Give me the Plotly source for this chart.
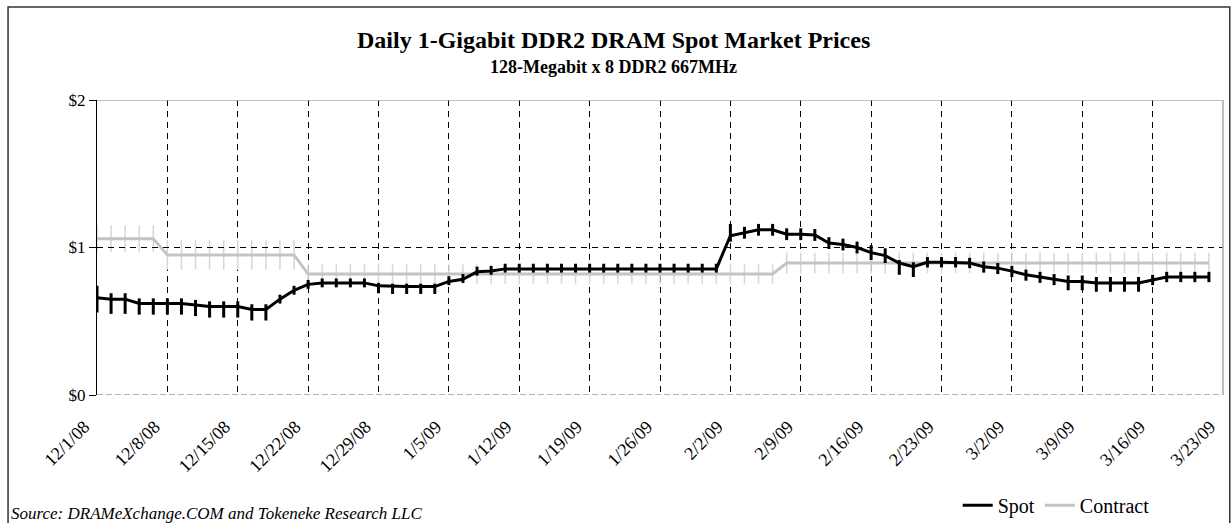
import pandas as pd
import plotly.graph_objects as go

# business days 12/1/08 .. 3/23/09 (category axis, 5 per week)
days = [d.strftime("%Y-%m-%d") for d in pd.bdate_range("2008-12-01", "2009-03-23")]

tick_days = [days[i] for i in range(0, len(days), 5)]
tick_labels = ["12/1/08", "12/8/08", "12/15/08", "12/22/08", "12/29/08", "1/5/09",
               "1/12/09", "1/19/09", "1/26/09", "2/2/09", "2/9/09", "2/16/09",
               "2/23/09", "3/2/09", "3/9/09", "3/16/09", "3/23/09"]

spot = [0.66, 0.65, 0.65, 0.62, 0.62, 0.62, 0.62, 0.61, 0.60, 0.60,
        0.60, 0.58, 0.58, 0.65, 0.71, 0.75, 0.76, 0.76, 0.76, 0.76,
        0.74, 0.735, 0.735, 0.735, 0.735, 0.77, 0.785, 0.835, 0.84, 0.855,
        0.855, 0.855, 0.855, 0.855, 0.855, 0.855, 0.855, 0.855, 0.855, 0.855,
        0.855, 0.855, 0.855, 0.855, 0.855, 1.08, 1.10, 1.12, 1.12, 1.09,
        1.09, 1.085, 1.03, 1.02, 1.00, 0.965, 0.945, 0.895, 0.87, 0.90,
        0.90, 0.90, 0.895, 0.87, 0.86, 0.84, 0.815, 0.80, 0.785, 0.77,
        0.77, 0.76, 0.76, 0.76, 0.76, 0.78, 0.80, 0.80, 0.80, 0.80, None]

spot_hi = [0.08, 0.04, 0.04, 0.035, 0.035, 0.035, 0.035, 0.035, 0.035, 0.035,
           0.035, 0.035, 0.035, 0.03, 0.03, 0.03, 0.03, 0.03, 0.03, 0.03,
           0.02, 0.02, 0.02, 0.02, 0.02, 0.035, 0.035, 0.035, 0.035, 0.035,
           0.035, 0.035, 0.035, 0.035, 0.035, 0.035, 0.035, 0.035, 0.035, 0.035,
           0.035, 0.035, 0.035, 0.035, 0.035, 0.08, 0.04, 0.04, 0.04, 0.04,
           0.04, 0.04, 0.04, 0.04, 0.04, 0.05, 0.05, 0.02, 0.03, 0.035,
           0.035, 0.035, 0.035, 0.035, 0.035, 0.035, 0.035, 0.035, 0.035, 0.04,
           0.04, 0.04, 0.04, 0.04, 0.04, 0.035, 0.035, 0.035, 0.035, 0.035, 0]

spot_lo = [0.10, 0.10, 0.10, 0.075, 0.075, 0.075, 0.075, 0.075, 0.075, 0.075,
           0.075, 0.075, 0.075, 0.03, 0.03, 0.03, 0.03, 0.03, 0.03, 0.03,
           0.05, 0.05, 0.05, 0.05, 0.05, 0.025, 0.025, 0.025, 0.025, 0.025,
           0.025, 0.025, 0.025, 0.025, 0.025, 0.025, 0.025, 0.025, 0.025, 0.025,
           0.025, 0.025, 0.025, 0.025, 0.025, 0.04, 0.04, 0.04, 0.04, 0.04,
           0.04, 0.04, 0.04, 0.04, 0.04, 0.05, 0.05, 0.08, 0.07, 0.035,
           0.035, 0.035, 0.035, 0.04, 0.04, 0.04, 0.04, 0.04, 0.04, 0.06,
           0.06, 0.06, 0.06, 0.06, 0.06, 0.035, 0.035, 0.035, 0.035, 0.035, 0]

contract = [1.06, 1.06, 1.06, 1.06, 1.06, 0.95, 0.95, 0.95, 0.95, 0.95,
            0.95, 0.95, 0.95, 0.95, 0.95, 0.82, 0.82, 0.82, 0.82, 0.82,
            0.82, 0.82, 0.82, 0.82, 0.82, 0.82, 0.82, 0.82, 0.82, 0.82,
            0.82, 0.82, 0.82, 0.82, 0.82, 0.82, 0.82, 0.82, 0.82, 0.82,
            0.82, 0.82, 0.82, 0.82, 0.82, 0.82, 0.82, 0.82, 0.82, 0.895,
            0.895, 0.895, 0.895, 0.895, 0.895, 0.895, 0.895, 0.895, 0.895, 0.895,
            0.895, 0.895, 0.895, 0.895, 0.895, 0.895, 0.895, 0.895, 0.895, 0.895,
            0.895, 0.895, 0.895, 0.895, 0.895, 0.895, 0.895, 0.895, 0.895, 0.895, None]

contract_err = [0.09, 0.09, 0.09, 0.09, 0.09, 0.10, 0.10, 0.10, 0.10, 0.10,
                0.10, 0.10, 0.10, 0.10, 0.10, 0.065, 0.065, 0.065, 0.065, 0.065,
                0.065, 0.065, 0.065, 0.065, 0.065, 0.065, 0.065, 0.065, 0.065, 0.065,
                0.065, 0.065, 0.065, 0.065, 0.065, 0.065, 0.065, 0.065, 0.065, 0.065,
                0.065, 0.065, 0.065, 0.065, 0.065, 0.065, 0.065, 0.065, 0.065, 0.07,
                0.07, 0.07, 0.07, 0.07, 0.07, 0.07, 0.07, 0.07, 0.07, 0.07,
                0.07, 0.07, 0.07, 0.07, 0.07, 0.07, 0.07, 0.07, 0.07, 0.07,
                0.07, 0.07, 0.07, 0.07, 0.07, 0.07, 0.07, 0.07, 0.07, 0.07, 0]

SERIF = "Liberation Serif"
GRAY = "#c4c4c4"
PAD = "\u00a0" * 4   # nudges rotated labels down-left like the original

fig = go.Figure()
fig.add_trace(go.Scatter(
    x=days, y=contract, name="Contract", mode="lines",
    line=dict(color=GRAY, width=3),
    error_y=dict(type="data", array=contract_err, color="#d6d6d6",
                 thickness=1.5, width=0),
))
fig.add_trace(go.Scatter(
    x=days, y=spot, name="Spot", mode="lines",
    line=dict(color="black", width=3),
    error_y=dict(type="data", array=spot_hi, arrayminus=spot_lo,
                 color="black", thickness=3, width=0),
))

fig.update_layout(
    width=1231, height=523,
    margin=dict(l=97, r=8, t=100, b=128),
    paper_bgcolor="white", plot_bgcolor="white",
    font=dict(family=SERIF, color="black", size=14),
    showlegend=True,
    legend=dict(orientation="h", xref="container", yref="container",
                x=0.778, y=0.034, xanchor="left", yanchor="middle",
                traceorder="reversed", bgcolor="rgba(0,0,0,0)",
                font=dict(family=SERIF, size=20), itemwidth=30),
)
fig.update_xaxes(
    type="category", categoryorder="array", categoryarray=days,
    range=[0, len(days) - 1], automargin=False,
    tickvals=tick_days, ticktext=[t + PAD for t in tick_labels], tickangle=-45,
    tickfont=dict(family=SERIF, size=18), ticklabelstandoff=4,
    showgrid=True, gridcolor="black", gridwidth=1, griddash="6px,5px",
    showline=False, zeroline=False, ticks="",
)
fig.update_yaxes(
    range=[0, 2], tickvals=[0, 1, 2], ticktext=["$0", "$1", "$2"],
    tickfont=dict(family=SERIF, size=17), automargin=False,
    showgrid=False, zeroline=False,
    showline=True, linecolor="black", linewidth=1,
    ticks="outside", ticklen=7, tickcolor="black",
)

# plot frame lines and $1 gridline
fig.add_shape(type="line", xref="paper", yref="y", x0=0, x1=1, y0=1, y1=1,
              line=dict(color="black", width=1, dash="6px,5px"))
fig.add_shape(type="line", xref="paper", yref="y", x0=0, x1=1, y0=2, y1=2,
              line=dict(color="#aaaaaa", width=1.5))
fig.add_shape(type="line", xref="paper", yref="y", x0=0, x1=1, y0=0, y1=0,
              line=dict(color="#999999", width=1.5, dash="6px,3px"))
fig.add_shape(type="line", xref="paper", yref="y", x0=1, x1=1, y0=0, y1=2,
              line=dict(color="#aaaaaa", width=1.5))
# outer chart border
fig.add_shape(type="rect", xref="paper", yref="paper",
              x0=-0.079, x1=1.006, y0=-0.45, y1=1.315,
              line=dict(color="#333333", width=1.5), layer="below")

fig.add_annotation(text="<b>Daily 1-Gigabit DDR2 DRAM Spot Market Prices</b>",
                   xref="paper", yref="paper", x=0.459, y=1.203,
                   xanchor="center", yanchor="middle",
                   showarrow=False, font=dict(family=SERIF, size=24))
fig.add_annotation(text="<b>128-Megabit x 8 DDR2 667MHz</b>",
                   xref="paper", yref="paper", x=0.459, y=1.112,
                   xanchor="center", yanchor="middle",
                   showarrow=False, font=dict(family=SERIF, size=18))
fig.add_annotation(text="<i>Source: DRAMeXchange.COM and Tokeneke Research LLC</i>",
                   xref="paper", yref="paper", x=-0.078, y=-0.4,
                   xanchor="left", yanchor="middle", showarrow=False,
                   font=dict(family=SERIF, size=17))

fig.write_html("out.html", config={"displayModeBar": False},
               post_script="document.body.style.margin='0';")
